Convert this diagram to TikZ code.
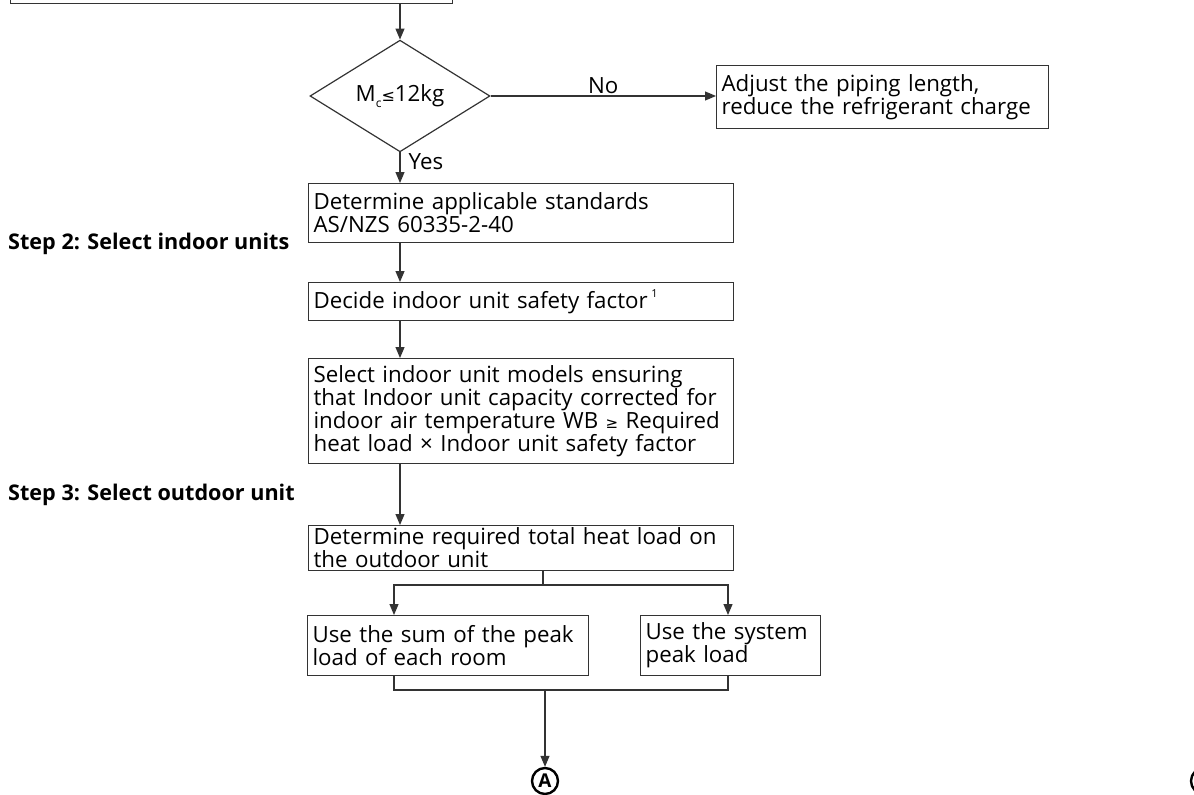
\documentclass[tikz,border=0pt]{standalone}
\usepackage{fontspec}
\setmainfont{Open Sans}
\newfontfamily\symf{DejaVu Sans}
\usetikzlibrary{shapes.geometric,arrows.meta}
\definecolor{lc}{HTML}{333333}
\begin{document}
\begin{tikzpicture}[x=1pt,y=-1pt,
  txt/.style={font=\fontsize{22.3}{23}\selectfont},
  box/.style={draw=lc, line width=1.2pt, rectangle, inner xsep=5pt, inner ysep=0pt,
    anchor=north west, align=left, txt},
  arr/.style={draw=lc, line width=1.2pt, -{Triangle[length=11pt,width=9pt]}},
  ln/.style={draw=lc, line width=1.2pt},
  steplbl/.style={anchor=west, inner sep=0pt, font=\fontsize{21.6}{22}\selectfont\bfseries},
  conn/.style={circle, draw=black, line width=2.4pt, minimum size=26pt, inner sep=0pt,
    font=\fontsize{19}{19}\selectfont\bfseries}]
\useasboundingbox (0,0) rectangle (1194,795);
% top (cut-off) box
\node[draw=lc, line width=1.2pt, rectangle, anchor=south west, minimum width=442pt,
  minimum height=60pt, inner sep=0pt] (top) at (10,4) {};
% decision
\node[draw=lc, line width=1.2pt, diamond, minimum width=180pt, minimum height=104pt,
  inner sep=0pt, txt] (dia) at (400,96) {M\raisebox{-0.5ex}{\fontsize{12}{12}\selectfont c}{\symf\fontsize{16}{16}\selectfont ≤}12kg};
\node[box, text width=322pt, minimum height=63pt] (adj) at (716,65)
  {Adjust the piping length,\\reduce the refrigerant charge};
\node[box, text width=415pt, minimum height=59pt] (std) at (308,183)
  {Determine applicable standards\\AS/NZS 60335-2-40};
\node[box, text width=415pt, minimum height=38pt] (dec) at (308,282)
  {Decide indoor unit safety factor\,\raisebox{0.9ex}{\fontsize{11}{11}\selectfont 1}};
\node[box, text width=415pt, minimum height=105pt] (sel) at (308,358)
  {Select indoor unit models ensuring\\that Indoor unit capacity corrected for\\indoor air temperature WB {\symf\fontsize{15}{15}\selectfont ≥} Required\\heat load × Indoor unit safety factor};
\node[box, text width=415pt, minimum height=45pt] (det) at (308,525)
  {Determine required total heat load on\\the outdoor unit};
\node[box, text width=271pt, minimum height=60pt] (sum) at (307,615)
  {Use the sum of the peak\\load of each room};
\node[box, text width=170pt, minimum height=60pt] (sys) at (640,615)
  {Use the system\\peak load};
\node[steplbl] (s2) at (8,244) {Step 2: Select indoor units};
\node[steplbl] (s3) at (8,495) {Step 3: Select outdoor unit};
\node[conn] (A) at (545,781) {A};
\node[conn] (B) at (1204,781) {};
% connectors
\draw[arr] (top.south -| dia.north) -- (dia.north);
\draw[arr] (dia.east) -- node[above, txt, inner sep=2pt] (no) {No} (dia.east -| adj.west);
\draw[arr] (dia.south) -- node[right, txt, pos=0.3, inner xsep=8pt, inner ysep=0pt] (yes) {Yes} (dia.south |- std.north);
\draw[arr] (dia.south |- std.south) -- (dia.south |- dec.north);
\draw[arr] (dia.south |- dec.south) -- (dia.south |- sel.north);
\draw[arr] (dia.south |- sel.south) -- (dia.south |- det.north);
\coordinate (sp) at (543,585);
\coordinate (la) at (394,585);
\coordinate (ra) at (728,585);
\draw[ln] (sp |- det.south) -- (sp);
\draw[arr] (sp) -- (la) -- (la |- sum.north);
\draw[arr] (sp) -- (ra) -- (ra |- sys.north);
\coordinate (jn) at (545,690);
\draw[ln] (la |- sum.south) -- (la |- jn) -- (ra |- jn) -- (ra |- sys.south);
\draw[arr] (jn) -- (A.north);
\end{tikzpicture}
\end{document}
